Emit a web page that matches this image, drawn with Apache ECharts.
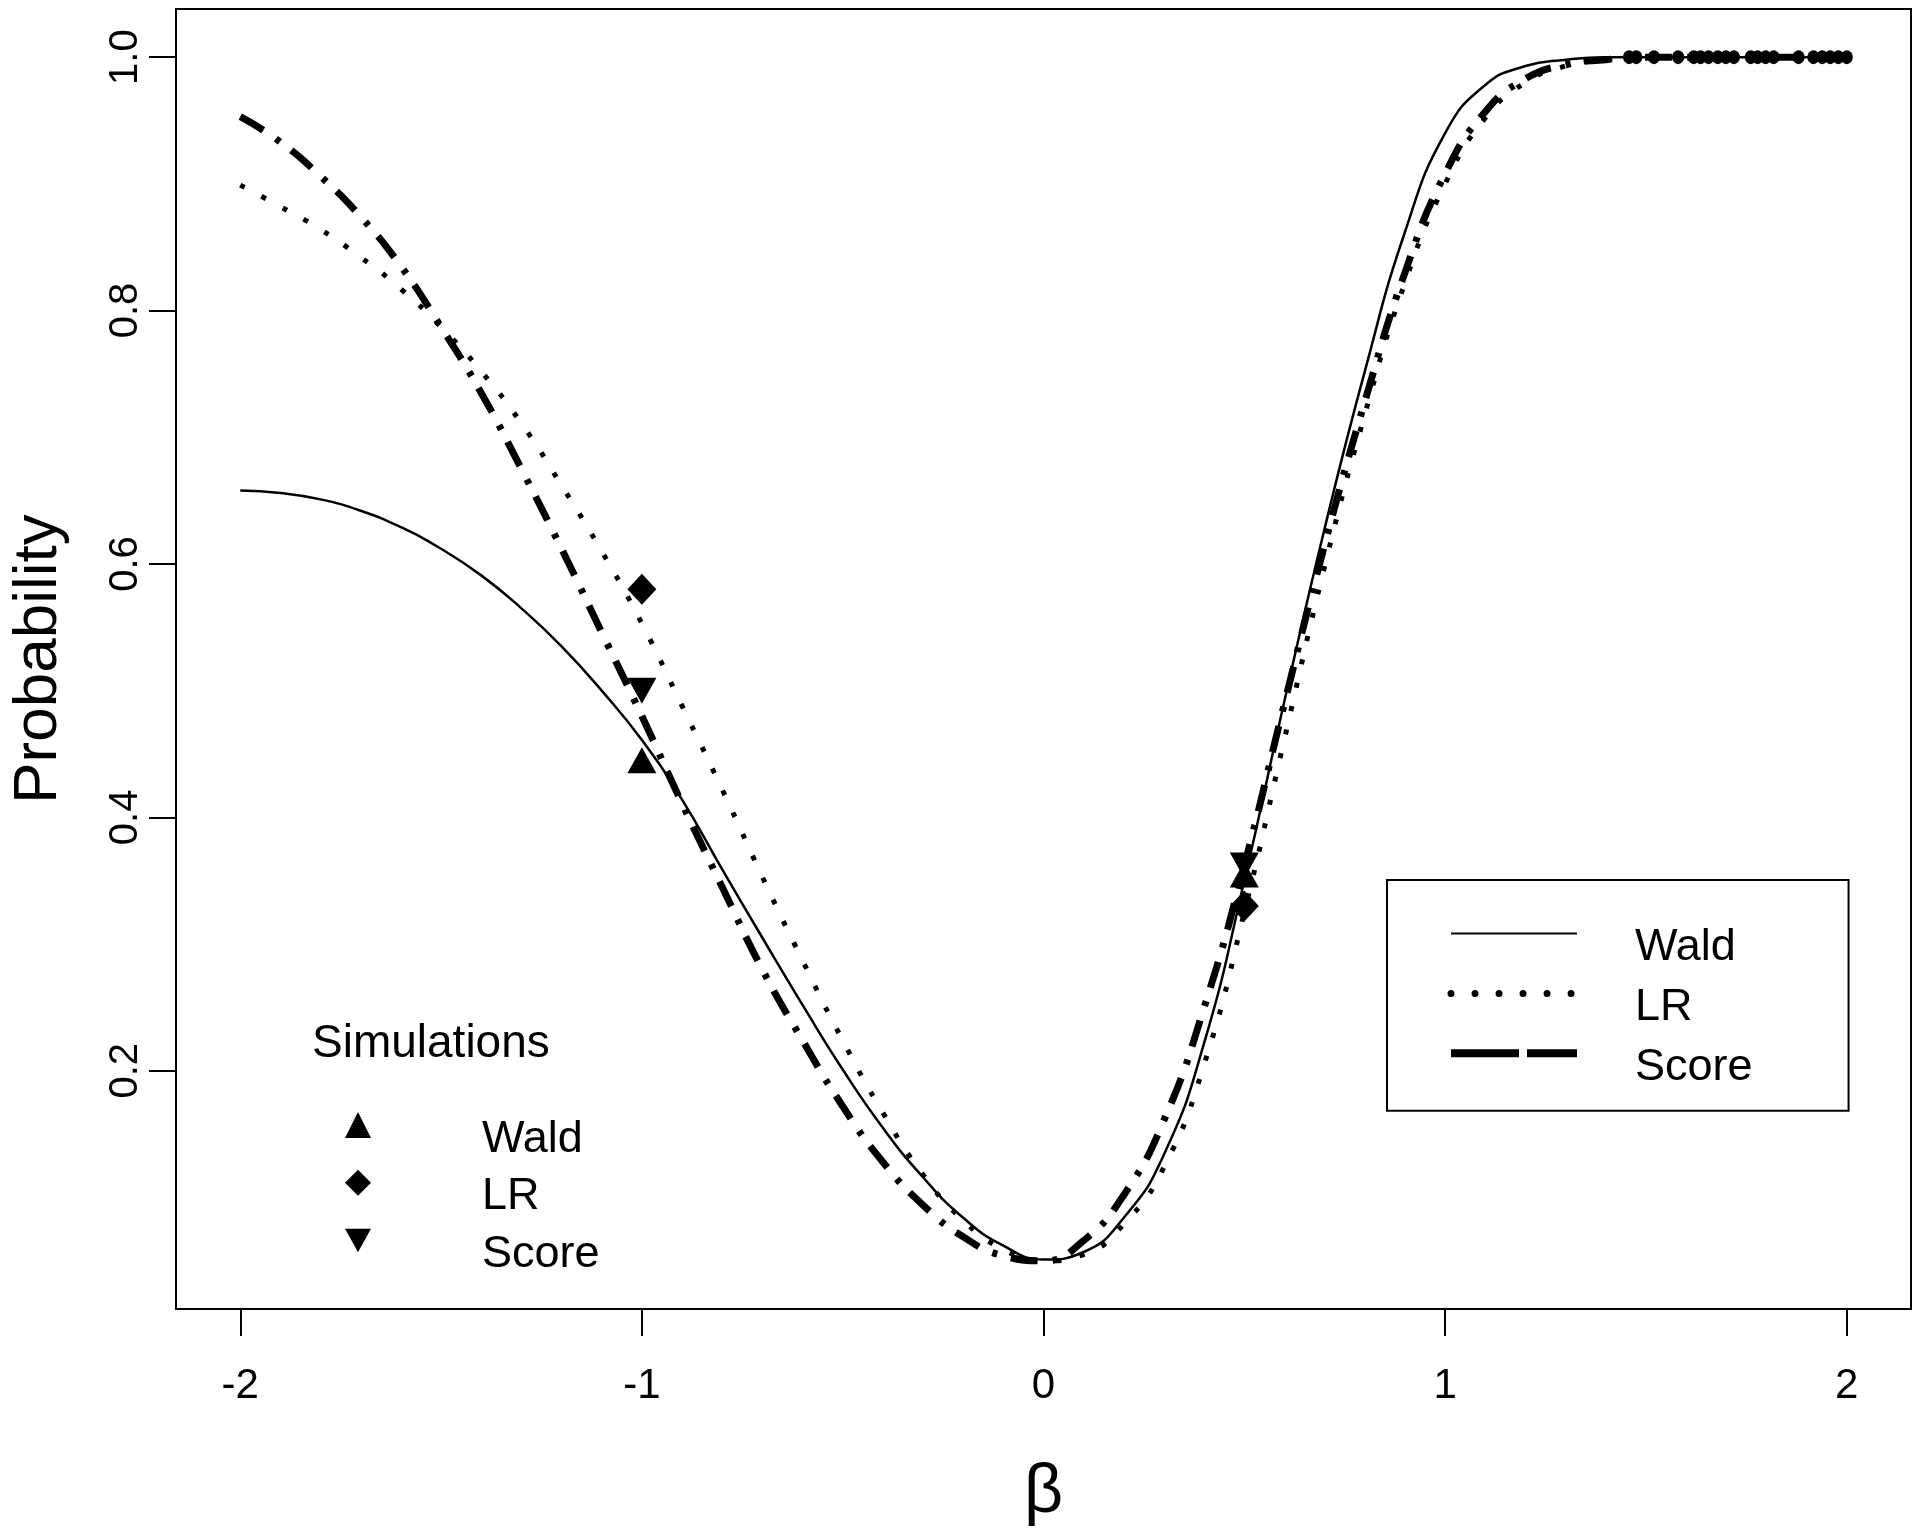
<!DOCTYPE html>
<html><head><meta charset="utf-8">
<script src="https://cdn.jsdelivr.net/npm/echarts@6/dist/echarts.min.js"></script>
<style>html,body{margin:0;padding:0;background:#fff}#c{width:1920px;height:1539px}</style>
</head><body><div id="c"></div>
<script>
// ---- data ----
const betaGrid = [-2.0,-1.9,-1.8,-1.7,-1.6,-1.5,-1.4,-1.3,-1.2,-1.1,-1.0,-0.9,-0.8,-0.7,-0.6,-0.5,-0.4,-0.3,-0.2,-0.1,
  0.0,0.1,0.2,0.3,0.4,0.5,0.6,0.7,0.8,0.9,1.0,1.1,1.2,1.3,1.4,1.5,1.6,1.7,1.8,1.9,2.0];
const waldPower = [0.658,0.656,0.651,0.642,0.629,0.612,0.591,0.565,0.535,0.500,0.461,0.414,0.359,0.305,0.252,0.201,0.155,0.116,0.084,0.062,
  0.051,0.057,0.084,0.134,0.222,0.350,0.492,0.628,0.752,0.862,0.940,0.978,0.993,0.998,1.000,1.000,1.000,1.000,1.000,1.000,1.000];
const lrPower = [0.899,0.882,0.864,0.842,0.817,0.787,0.752,0.711,0.662,0.610,0.553,0.488,0.422,0.353,0.287,0.224,0.167,0.118,0.082,0.059,
  0.050,0.055,0.079,0.124,0.205,0.325,0.462,0.598,0.718,0.822,0.900,0.952,0.980,0.993,0.998,1.000,1.000,1.000,1.000,1.000,1.000];
const scorePower = [0.953,0.933,0.906,0.874,0.835,0.787,0.735,0.675,0.612,0.546,0.480,0.411,0.345,0.280,0.224,0.172,0.128,0.094,0.069,0.054,
  0.050,0.066,0.102,0.161,0.250,0.362,0.490,0.615,0.728,0.830,0.908,0.957,0.983,0.994,0.998,1.000,1.000,1.000,1.000,1.000,1.000];
const simBeta = [-1.0, 0.5];
const waldSim = [0.445, 0.355];
const lrSim = [0.580, 0.330];
const scoreSim = [0.500, 0.362];
const flatBeta = [1.458,1.476,1.520,1.580,1.619,1.636,1.656,1.679,1.699,1.719,1.761,1.778,1.798,1.818,1.880,1.917,1.939,1.959,1.979,2.000];
const flatPower = [1,1,1,1,1,1,1,1,1,1,1,1,1,1,1,1,1,1,1,1];
const xTicks = [-2,-1,0,1,2];
const yTicks = [0.2,0.4,0.6,0.8,1.0];

const FONT = '"Liberation Sans", Arial, Helvetica, sans-serif';
const pair = (xs, ys) => xs.map((x, i) => [x, ys[i]]);
const chart = echarts.init(document.getElementById('c'), null, {renderer: 'canvas'});
const noSymbol = {color: 'rgba(0,0,0,0)', borderColor: 'rgba(0,0,0,0)', borderWidth: 0, opacity: 0};
const INV_TRIANGLE = 'path://M0,0L2,0L1,1.8Z';

const option = {
  animation: false,
  backgroundColor: '#fff',
  title: {
    text: 'Simulations', left: 312, top: 1021, padding: 0,
    textStyle: {fontSize: 46, fontWeight: 'normal', fontFamily: FONT, color: '#000'}
  },
  grid: {left: 170, right: 9, top: 9, bottom: 230, show: true, borderColor: '#000', borderWidth: 2, backgroundColor: 'transparent'},
  xAxis: {
    type: 'value', min: -2.16, max: 2.16,
    name: 'β', nameLocation: 'middle', nameGap: 150,
    nameTextStyle: {fontSize: 68, fontFamily: FONT, color: '#000'},
    axisLine: {show: false, onZero: false}, splitLine: {show: false},
    axisTick: {show: true, length: 27, lineStyle: {color: '#000', width: 2}, customValues: xTicks},
    axisLabel: {customValues: xTicks, fontSize: 42, fontFamily: FONT, color: '#000', margin: 56}
  },
  yAxis: {
    type: 'value', min: 0.012, max: 1.038,
    name: 'Probability', nameLocation: 'middle', nameGap: 106,
    nameTextStyle: {fontSize: 62, fontFamily: FONT, color: '#000'},
    axisLine: {show: false, onZero: false}, splitLine: {show: false},
    axisTick: {show: true, length: 27, lineStyle: {color: '#000', width: 2}, customValues: yTicks},
    axisLabel: {customValues: yTicks, rotate: 90, fontSize: 40, fontFamily: FONT, color: '#000', margin: 30,
      formatter: v => Number(v).toFixed(1)}
  },
  legend: [
    {
      orient: 'vertical', left: 1387, top: 880, padding: [17, 96, 21, 60],
      borderColor: '#000', borderWidth: 2, backgroundColor: '#fff',
      itemWidth: 126, itemHeight: 14, itemGap: -13.1, selectedMode: false,
      formatter: n => '{t|' + n + '}',
      textStyle: {fontSize: 45, fontFamily: FONT, color: '#000',
        rich: {t: {fontSize: 45, fontFamily: FONT, color: '#000', lineHeight: 52, padding: [28, 0, 0, 53]}}},
      data: [
        {name: 'Wald', itemStyle: noSymbol, lineStyle: {color: '#000', width: 2, type: 'solid'}},
        {name: 'LR', itemStyle: noSymbol, lineStyle: {color: '#000', width: 7, type: [0.01, 24], cap: 'round'}},
        {name: 'Score', itemStyle: noSymbol, lineStyle: {color: '#000', width: 8, type: [68, 8], cap: 'butt'}}
      ]
    },
    {
      orient: 'vertical', left: 345, top: 1088.6, padding: 0,
      itemWidth: 26, itemHeight: 26, itemGap: -15.3, selectedMode: false,
      formatter: n => '{t|' + n.replace(' (sim)', '') + '}',
      textStyle: {fontSize: 45, fontFamily: FONT, color: '#000',
        rich: {t: {fontSize: 45, fontFamily: FONT, color: '#000', lineHeight: 52, padding: [28, 0, 0, 106]}}},
      data: [
        {name: 'Wald (sim)'},
        {name: 'LR (sim)'},
        {name: 'Score (sim)', icon: INV_TRIANGLE}
      ]
    }
  ],
  series: [
    {name: 'Wald', type: 'line', data: pair(betaGrid, waldPower), symbol: 'none', smooth: 0.5,
      lineStyle: {color: '#000', width: 2.5, type: 'solid'}, z: 3},
    {name: 'LR', type: 'line', data: pair(betaGrid, lrPower), symbol: 'none', smooth: 0.5,
      lineStyle: {color: '#000', width: 5, type: [5, 19], cap: 'butt'}, z: 3},
    {name: 'Score', type: 'line', data: pair(betaGrid, scorePower), symbol: 'none', smooth: 0.5,
      lineStyle: {color: '#000', width: 7, type: [27, 15, 5, 14], cap: 'butt'}, z: 3},
    {name: 'Wald (sim)', type: 'scatter', data: pair(simBeta, waldSim), symbol: 'triangle', symbolSize: [29, 26],
      itemStyle: {color: '#000', opacity: 1}, z: 5},
    {name: 'LR (sim)', type: 'scatter', data: pair(simBeta, lrSim), symbol: 'diamond', symbolSize: [29, 31],
      itemStyle: {color: '#000', opacity: 1}, z: 5},
    {name: 'Score (sim)', type: 'scatter', data: pair(simBeta, scoreSim), symbol: 'triangle', symbolRotate: 180, symbolSize: [29, 26],
      itemStyle: {color: '#000', opacity: 1}, z: 5},
    {name: 'flat', type: 'scatter', data: pair(flatBeta, flatPower), symbol: 'circle', symbolSize: [12, 14],
      itemStyle: {color: '#000', opacity: 1}, z: 4}
  ]
};
chart.setOption(option);
</script>
</body></html>
